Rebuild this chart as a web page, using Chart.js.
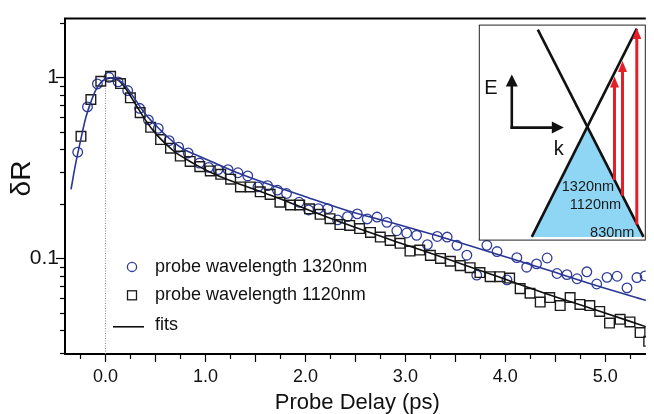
<!DOCTYPE html>
<html>
<head>
<meta charset="UTF-8">
<title>dR vs probe delay</title>
<script src="https://cdn.jsdelivr.net/npm/chart.js@4.4.1/dist/chart.umd.min.js"></script>
<style>
  html, body { margin: 0; padding: 0; background: #fff; }
  #wrap { position: relative; width: 654px; height: 414px; }
</style>
</head>
<body>
<div id="wrap"><canvas id="c" width="654" height="414"></canvas></div>
<script>
// --- data ---
const delay1320 = [-0.278, -0.180, -0.081, 0.035, 0.126, 0.222, 0.341, 0.429, 0.528, 0.637, 0.732, 0.827,
  0.940, 1.032, 1.125, 1.226, 1.325, 1.423, 1.525, 1.621, 1.720, 1.811, 1.937, 2.032, 2.130, 2.223,
  2.322, 2.421, 2.519, 2.618, 2.717, 2.815, 2.914, 3.013, 3.112, 3.220, 3.319, 3.418, 3.516, 3.615,
  3.714, 3.815, 3.917, 4.016, 4.115, 4.213, 4.312, 4.418, 4.517, 4.616, 4.717, 4.815, 4.914, 5.017,
  5.118, 5.217, 5.316, 5.398];
const dR1320 = [0.386, 0.686, 0.919, 1.00, 0.943, 0.845, 0.674, 0.582, 0.522, 0.447, 0.411, 0.382,
  0.336, 0.318, 0.309, 0.309, 0.297, 0.285, 0.248, 0.252, 0.238, 0.228, 0.204, 0.185, 0.188, 0.188,
  0.163, 0.170, 0.176, 0.165, 0.169, 0.158, 0.142, 0.138, 0.134, 0.119, 0.132, 0.131, 0.118, 0.104,
  0.0807, 0.118, 0.109, 0.076, 0.1008, 0.0893, 0.0931, 0.1004, 0.0824, 0.0813, 0.0771, 0.0842, 0.0721, 0.0785,
  0.0796, 0.0686, 0.0783, 0.080];

const delay1120 = [-0.245, -0.146, -0.047, 0.051, 0.150, 0.249, 0.347, 0.452, 0.551, 0.650, 0.748, 0.847,
  0.943, 1.048, 1.153, 1.252, 1.350, 1.449, 1.548, 1.647, 1.745, 1.851, 1.943, 2.041, 2.147, 2.246,
  2.345, 2.443, 2.542, 2.651, 2.749, 2.848, 2.947, 3.046, 3.144, 3.250, 3.351, 3.450, 3.549, 3.648,
  3.746, 3.848, 3.944, 4.043, 4.148, 4.247, 4.349, 4.444, 4.549, 4.648, 4.746, 4.845, 4.944, 5.042,
  5.148, 5.247, 5.348, 5.434];
const dR1120 = [0.472, 0.754, 0.951, 1.013, 0.923, 0.770, 0.638, 0.529, 0.453, 0.406, 0.367, 0.343,
  0.321, 0.304, 0.291, 0.2735, 0.248, 0.248, 0.233, 0.2255, 0.204, 0.197, 0.197, 0.1876, 0.175, 0.1655,
  0.1535, 0.152, 0.146, 0.139, 0.131, 0.1254, 0.121, 0.1096, 0.111, 0.1038, 0.0998, 0.0963, 0.0911, 0.0888,
  0.0834, 0.0791, 0.0791, 0.0778, 0.068, 0.0641, 0.0573, 0.0607, 0.0548, 0.0607, 0.0556, 0.0548, 0.0509, 0.0439,
  0.046, 0.0445, 0.0389, 0.0348];

const fitDelay1320 = [-0.345, -0.3, -0.25, -0.2, -0.15, -0.1, -0.05, 0.0, 0.05, 0.1, 0.15, 0.2, 0.3, 0.4,
  0.5, 0.6, 0.7, 0.8, 0.92, 1.07, 1.3, 1.52, 2.0, 2.4, 2.9, 3.4, 3.9, 4.4, 4.9, 5.41];
const fit1320 = [0.24, 0.33, 0.445, 0.59, 0.72, 0.845, 0.93, 0.978, 0.995, 0.985, 0.95, 0.895, 0.75, 0.625,
  0.545, 0.48, 0.43, 0.395, 0.37, 0.34, 0.30, 0.27, 0.219, 0.185, 0.155, 0.129, 0.106, 0.087, 0.071, 0.0585];

const fitDelay1120 = [0.0, 0.05, 0.1, 0.15, 0.2, 0.3, 0.4, 0.5, 0.6, 0.7, 0.8, 0.92, 1.07, 1.3, 1.66,
  2.0, 2.4, 2.9, 3.4, 3.9, 4.4, 4.9, 5.41];
const fit1120 = [0.975, 0.993, 0.98, 0.94, 0.87, 0.71, 0.58, 0.49, 0.43, 0.385, 0.355, 0.325, 0.295, 0.262, 0.222,
  0.188, 0.155, 0.124, 0.100, 0.080, 0.064, 0.052, 0.0418];

const zeroDelay = [0, 0];
const zeroLevel = [0.0296, 0.87];

const X_MIN = -0.405, X_MAX = 5.405;
const Y_MIN = 0.0296, Y_MAX = 2.11;
const xLabelTicks = [0, 1, 2, 3, 4, 5];
const xLongTicks = [0, 0.5, 1, 1.5, 2, 2.5, 3, 3.5, 4, 4.5, 5];
const xShortTicks = [-0.25, 0.25, 0.75, 1.25, 1.75, 2.25, 2.75, 3.25, 3.75, 4.25, 4.75, 5.25];
const yLabelTicks = [0.1, 1];
const yLabelText = ['0.1', '1'];
const yShortTicks = [0.03, 0.04, 0.05, 0.06, 0.07, 0.08, 0.09, 0.2, 0.3, 0.4, 0.5, 0.6, 0.7, 0.8, 0.9, 2];

const legendLabels = ['probe wavelength 1320nm', 'probe wavelength 1120nm', 'fits'];

const FONT = '"Liberation Sans", Arial, Helvetica, sans-serif';
const BLUE = '#303c9c';
const BLUE_FIT = '#2a3694';
const DARK = '#1c1c1c';

const pts = (xs, ys) => xs.map((v, i) => ({ x: v, y: ys[i] }));

function line(ctx, x0, y0, x1, y1) {
  ctx.beginPath(); ctx.moveTo(x0, y0); ctx.lineTo(x1, y1); ctx.stroke();
}

function arrow(ctx, x0, y0, x1, y1, headLen, headW) {
  const ang = Math.atan2(y1 - y0, x1 - x0);
  const c = Math.cos(ang), s = Math.sin(ang);
  const bx = x1 - headLen * c, by = y1 - headLen * s;
  line(ctx, x0, y0, bx + c, by + s);
  ctx.beginPath();
  ctx.moveTo(x1, y1);
  ctx.lineTo(bx - s * headW / 2, by + c * headW / 2);
  ctx.lineTo(bx + s * headW / 2, by - c * headW / 2);
  ctx.closePath();
  ctx.fill();
}

const decor = {
  id: 'decor',
  beforeDatasetsDraw(chart) {
    const { ctx, chartArea: a, scales: { x, y } } = chart;
    ctx.save();
    ctx.strokeStyle = '#000';
    ctx.lineWidth = 1.2;
    xLongTicks.forEach(v => { const p = Math.round(x.getPixelForValue(v)) + 0.5; line(ctx, p, a.bottom, p, a.bottom + 8); });
    xShortTicks.forEach(v => { const p = Math.round(x.getPixelForValue(v)) + 0.5; line(ctx, p, a.bottom, p, a.bottom + 5); });
    yLabelTicks.forEach(v => { const p = Math.round(y.getPixelForValue(v)) + 0.5; line(ctx, a.left - 9, p, a.left, p); });
    yShortTicks.forEach(v => { const p = Math.round(y.getPixelForValue(v)) + 0.5; line(ctx, a.left - 5, p, a.left, p); });
    // top frame line
    ctx.lineWidth = 2;
    line(ctx, a.left - 1, a.top, a.right, a.top);
    ctx.restore();
  },
  afterDraw(chart) {
    const { ctx, chartArea: a } = chart;
    ctx.save();
    ctx.fillStyle = '#111';

    // axis titles
    ctx.font = '22px ' + FONT;
    ctx.textAlign = 'center';
    ctx.textBaseline = 'alphabetic';
    ctx.fillText('Probe Delay (ps)', (a.left + a.right) / 2 + 2, 409);
    ctx.save();
    ctx.translate(22.5, 178.5);
    ctx.rotate(-Math.PI / 2);
    ctx.font = '28px ' + FONT;
    ctx.textBaseline = 'middle';
    ctx.fillText('\u03b4R', 0, 0);
    ctx.restore();

    // legend
    const mx = a.left + 67, tx = a.left + 90;
    const rows = [a.top + 248.3, a.top + 276.7, a.top + 306.7];
    ctx.lineWidth = 1.3;
    ctx.strokeStyle = BLUE;
    ctx.beginPath(); ctx.arc(mx, rows[0], 4.6, 0, Math.PI * 2); ctx.stroke();
    ctx.strokeStyle = DARK;
    ctx.strokeRect(mx - 4.5, rows[1] - 4.5, 9, 9);
    ctx.lineWidth = 1.5;
    ctx.strokeStyle = '#000';
    line(ctx, mx - 19, rows[2] + 1.5, mx + 12, rows[2] + 1.5);
    ctx.font = '18px ' + FONT;
    ctx.textAlign = 'left';
    ctx.textBaseline = 'middle';
    legendLabels.forEach((t, i) => ctx.fillText(t, tx, rows[i]));

    // inset: band diagram
    const bx = a.right - 167, by = a.top + 6, bw = 166, bh = 215;
    ctx.fillStyle = '#fff';
    ctx.fillRect(bx, by, bw, bh);
    const P = (rx, ry) => [bx + rx, by + ry];
    const cross = P(108.5, 102.1), bl = P(53, 212.3), br = P(164.7, 212.3);
    ctx.fillStyle = '#8fd5f4';
    ctx.beginPath(); ctx.moveTo(...cross); ctx.lineTo(...bl); ctx.lineTo(...br); ctx.closePath(); ctx.fill();
    ctx.strokeStyle = '#111';
    ctx.lineWidth = 2.6;
    line(ctx, ...P(59, 5), ...P(164.7, 212.3));
    line(ctx, ...P(158, 4), ...P(53, 212.3));
    // E-k axes
    ctx.fillStyle = '#111';
    ctx.lineWidth = 2.6;
    ctx.lineCap = 'butt';
    arrow(ctx, ...P(33, 104.3), ...P(33, 50), 12, 12);
    arrow(ctx, ...P(31.7, 103), ...P(85, 103), 12, 12);
    ctx.font = '20px ' + FONT;
    ctx.textAlign = 'center';
    ctx.textBaseline = 'middle';
    ctx.fillText('E', ...P(12, 64));
    ctx.fillText('k', ...P(80, 125));
    // red transitions
    ctx.strokeStyle = '#e61e28';
    ctx.fillStyle = '#e61e28';
    ctx.lineWidth = 3;
    arrow(ctx, ...P(135.7, 155.5), ...P(135.7, 52), 11, 9);
    arrow(ctx, ...P(143.7, 171), ...P(143.7, 36.5), 11, 9);
    arrow(ctx, ...P(158, 200), ...P(158, 3.5), 11, 9);
    // wavelength labels
    ctx.fillStyle = '#1a1a1a';
    ctx.font = '14.5px ' + FONT;
    ctx.textAlign = 'left';
    ctx.fillText('1320nm', ...P(83, 162));
    ctx.fillText('1120nm', ...P(91, 180.5));
    ctx.fillText('830nm', ...P(111.3, 208));
    // frame
    ctx.strokeStyle = '#222';
    ctx.lineWidth = 1;
    ctx.strokeRect(bx + 0.5, by + 0.5, bw, bh);
    ctx.restore();
  }
};

new Chart(document.getElementById('c'), {
  type: 'scatter',
  data: {
    datasets: [
      {
        label: 'zero delay',
        data: pts(zeroDelay, zeroLevel),
        showLine: true,
        borderColor: '#8a8a8a',
        borderWidth: 1,
        borderDash: [1, 1.5],
        pointRadius: 0,
        order: 5
      },
      {
        label: legendLabels[0],
        data: pts(delay1320, dR1320),
        pointStyle: 'circle',
        pointRadius: 4.8,
        pointBorderWidth: 1.3,
        borderColor: BLUE,
        backgroundColor: 'rgba(0,0,0,0)',
        order: 3
      },
      {
        label: legendLabels[1],
        data: pts(delay1120, dR1120),
        pointStyle: 'rect',
        pointRadius: 6.8,
        pointBorderWidth: 1.4,
        borderColor: DARK,
        backgroundColor: 'rgba(0,0,0,0)',
        order: 2
      },
      {
        label: 'fit 1120nm',
        data: pts(fitDelay1120, fit1120),
        showLine: true,
        cubicInterpolationMode: 'monotone',
        borderColor: '#111',
        borderWidth: 1.6,
        pointRadius: 0,
        order: 1
      },
      {
        label: 'fit 1320nm',
        data: pts(fitDelay1320, fit1320),
        showLine: true,
        cubicInterpolationMode: 'monotone',
        borderColor: BLUE_FIT,
        borderWidth: 1.6,
        pointRadius: 0,
        order: 0
      }
    ]
  },
  options: {
    responsive: false,
    animation: false,
    devicePixelRatio: 1,
    layout: { padding: { top: 15, right: 0, bottom: 0, left: 0 } },
    plugins: { legend: { display: false }, tooltip: { enabled: false } },
    scales: {
      x: {
        type: 'linear',
        min: X_MIN,
        max: X_MAX,
        afterFit: s => { s.height = 60; },
        afterBuildTicks: s => { s.ticks = xLabelTicks.map(v => ({ value: v })); },
        grid: { display: false, drawTicks: false },
        border: { display: true, color: '#000', width: 2 },
        ticks: {
          padding: 12, color: '#111', autoSkip: false, maxRotation: 0,
          font: { family: FONT, size: 18 },
          callback: v => Number(v).toFixed(1)
        }
      },
      y: {
        type: 'logarithmic',
        min: Y_MIN,
        max: Y_MAX,
        afterFit: s => { s.width = 65; },
        afterBuildTicks: s => { s.ticks = yLabelTicks.map(v => ({ value: v })); },
        grid: { display: false, drawTicks: false },
        border: { display: true, color: '#000', width: 2 },
        ticks: {
          padding: 6, color: '#111', autoSkip: false,
          font: { family: FONT, size: 21 },
          callback: v => yLabelText[yLabelTicks.indexOf(v)]
        }
      }
    }
  },
  plugins: [decor]
});
</script>
</body>
</html>
